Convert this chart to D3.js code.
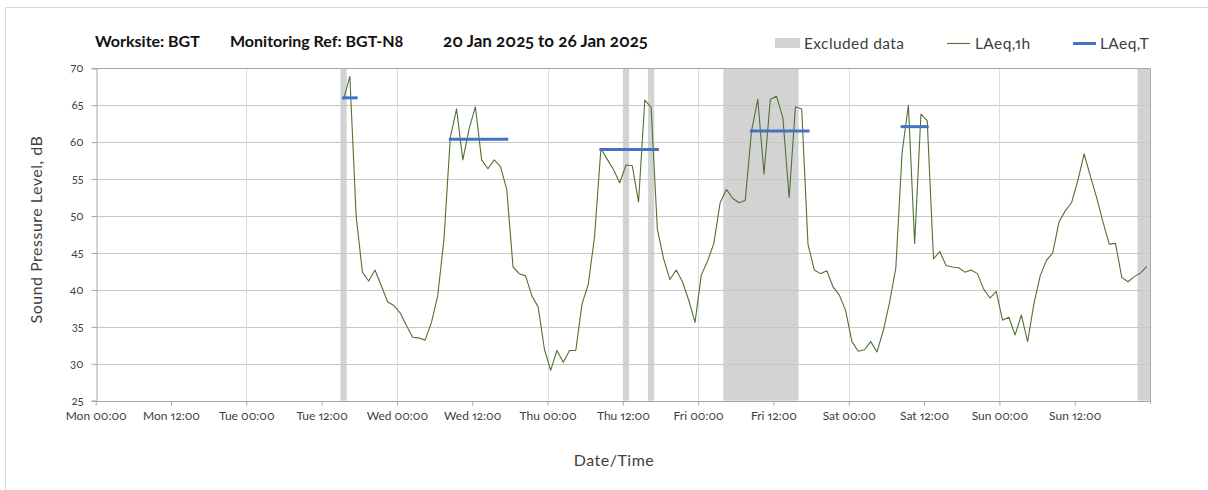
<!DOCTYPE html>
<html>
<head>
<meta charset="utf-8">
<script src="https://cdn.jsdelivr.net/npm/d3@7"></script>
<style>
  html, body { margin: 0; padding: 0; background: #fff; }
  svg { display: block; font-family: Lato, "Open Sans", sans-serif; font-feature-settings: "onum" 1, "pnum" 1; }
</style>
</head>
<body>
<svg id="chart" width="1208" height="490"></svg>
<script>
// ---- data ----
const title1 = "Worksite: BGT";
const title2 = "Monitoring Ref: BGT-N8";
const title3 = "20 Jan 2025 to 26 Jan 2025";
const yLabel = "Sound Pressure Level, dB";
const xLabel = "Date/Time";
const legendLabels = ["Excluded data", "LAeq,1h", "LAeq,T"];

const domainStart = "2025-01-20T00:00";
const domainEnd = "2025-01-27T00:00";
const xTickLabels = ["Mon 00:00","Mon 12:00","Tue 00:00","Tue 12:00","Wed 00:00","Wed 12:00","Thu 00:00",
                     "Thu 12:00","Fri 00:00","Fri 12:00","Sat 00:00","Sat 12:00","Sun 00:00","Sun 12:00"];
const yTicks = [25, 30, 35, 40, 45, 50, 55, 60, 65, 70];

// hourly LAeq,1h starting Tue 21 Jan 15:00 (one value per hour)
const hourlyStart = "2025-01-21T15:00";
const laeq1h = [
  65.8, 68.9, 50.0, 42.4, 41.2, 42.7, 40.6, 38.4, 37.9,            // Tue 15-23
  36.9, 35.2, 33.6, 33.5, 33.2, 35.6, 39.2, 46.9, 60.6, 64.5, 57.6, 61.8,   // Wed 00-11
  64.8, 57.6, 56.4, 57.6, 56.7, 53.6, 43.1, 42.2, 41.9, 39.2, 37.7, 32.0,   // Wed 12-23
  29.1, 31.8, 30.2, 31.8, 31.8, 38.1, 40.8, 47.3, 59.1, 57.7, 56.3, 54.5,   // Thu 00-11
  56.9, 56.8, 51.9, 65.7, 64.7, 48.2, 44.2, 41.4, 42.7, 41.1, 38.6, 35.6,   // Thu 12-23
  42.0, 43.9, 46.3, 51.8, 53.6, 52.4, 51.8, 52.1, 61.5, 65.8, 55.7, 65.8,   // Fri 00-11
  66.2, 63.3, 52.5, 64.8, 64.5, 46.2, 42.7, 42.2, 42.6, 40.4, 39.3, 37.2,   // Fri 12-23
  33.0, 31.7, 31.9, 33.0, 31.6, 34.5, 38.3, 43.0, 58.6, 65.0, 46.3, 63.8,   // Sat 00-11
  62.9, 44.2, 45.2, 43.3, 43.1, 43.0, 42.4, 42.7, 42.2, 40.1, 38.9, 39.8,   // Sat 12-23
  35.9, 36.3, 33.9, 36.6, 33.0, 38.1, 41.9, 44.0, 45.0, 49.2, 50.7, 51.8,   // Sun 00-11
  54.8, 58.4, 55.4, 52.5, 49.2, 46.2, 46.3, 41.7, 41.1, 41.8, 42.3, 43.2    // Sun 12-23
];

// LAeq,T periods (first hour start, last hour start, level)
const ltStart = ["2025-01-21T15:00","2025-01-22T08:00","2025-01-23T08:00","2025-01-24T08:00","2025-01-25T08:00"];
const ltEnd   = ["2025-01-21T17:00","2025-01-22T17:00","2025-01-23T17:00","2025-01-24T17:00","2025-01-25T12:00"];
const ltValue = [66.0, 60.4, 59.0, 61.5, 62.1];

// Excluded data periods
const exStart = ["2025-01-21T15:00","2025-01-23T12:00","2025-01-23T16:00","2025-01-24T04:00","2025-01-26T22:00"];
const exEnd   = ["2025-01-21T16:00","2025-01-23T13:00","2025-01-23T17:00","2025-01-24T16:00","2025-01-27T00:00"];

// ---- drawing ----
(function () {
const HOUR = 3600 * 1000;
const parse = s => new Date(s);
const svg = d3.select("#chart");
const pLeft = 95.7, pRight = 1150, pTop = 68.3, pBottom = 400.7;

const x = d3.scaleTime().domain([parse(domainStart), parse(domainEnd)]).range([pLeft, pRight]);
const y = d3.scaleLinear().domain([25, 70]).range([pBottom, pTop]);

const lineColor = "#537132", ltColor = "#4472c4", exColor = "#d3d3d3";
const textColor = "#404040";

// outer chart border
svg.append("path").attr("d", "M5.5,495V7.5H1215").attr("fill", "none").attr("stroke", "#d9d9d9");

// excluded bands
svg.append("g").selectAll("rect").data(exStart.map((s, i) => [parse(s), parse(exEnd[i])]))
  .join("rect")
  .attr("x", d => x(d[0])).attr("width", d => x(d[1]) - x(d[0]))
  .attr("y", pTop).attr("height", pBottom - pTop)
  .attr("fill", exColor);

// horizontal gridlines
svg.append("g").selectAll("line").data(yTicks.filter(v => v > 25))
  .join("line")
  .attr("x1", pLeft).attr("x2", pRight)
  .attr("y1", d => Math.round(y(d)) + 0.5).attr("y2", d => Math.round(y(d)) + 0.5)
  .attr("stroke", "#c8c8c8");

// vertical gridlines at daily 00:00
const tickDates = xTickLabels.map((_, i) => new Date(parse(domainStart).getTime() + i * 12 * HOUR));
svg.append("g").selectAll("line").data(tickDates.filter((d, i) => i > 0 && i % 2 === 0))
  .join("line")
  .attr("x1", d => Math.round(x(d)) + 0.5).attr("x2", d => Math.round(x(d)) + 0.5)
  .attr("y1", pTop).attr("y2", pBottom)
  .attr("stroke", "#dcdcdc");

// plot border (top and right)
svg.append("path")
  .attr("d", `M${pLeft},${Math.round(pTop) + 0.5}H${Math.round(pRight) + 0.5}V${pBottom + 3}`)
  .attr("fill", "none").attr("stroke", "#a6a6a6");

// y axis
const yAxis = d3.axisLeft(y).tickValues(yTicks).tickSize(5).tickPadding(8);
const gy = svg.append("g").attr("transform", `translate(${Math.round(pLeft) + 0.5},0)`).call(yAxis);
gy.select(".domain").attr("stroke", "#a6a6a6");
gy.selectAll(".tick line").attr("stroke", "#a6a6a6");
gy.selectAll(".tick text").attr("fill", textColor).style("font-size", "11.5px").style("font-family", "Lato");

// x axis
const xAxis = d3.axisBottom(x).tickValues(tickDates).tickSize(4).tickPadding(6)
  .tickFormat((d, i) => xTickLabels[i]);
const gx = svg.append("g").attr("transform", `translate(0,${Math.round(pBottom) + 0.5})`).call(xAxis);
gx.select(".domain").attr("stroke", "#a6a6a6").attr("d", `M${pLeft},0H${pRight}`);
gx.selectAll(".tick line").attr("stroke", "#a6a6a6");
gx.selectAll(".tick text").attr("fill", textColor).style("font-size", "12px").style("font-family", "Lato");

// LAeq,1h line
const t0 = parse(hourlyStart).getTime();
const line = d3.line()
  .x((d, i) => x(new Date(t0 + i * HOUR + HOUR / 2)))
  .y(d => y(d));
svg.append("path").datum(laeq1h).attr("d", line)
  .attr("fill", "none").attr("stroke", lineColor).attr("stroke-width", 1.1)
  .attr("stroke-linejoin", "round");

// LAeq,T segments
svg.append("g").selectAll("line").data(ltValue.map((v, i) => ({ s: parse(ltStart[i]), e: parse(ltEnd[i]), v })))
  .join("line")
  .attr("x1", d => x(new Date(d.s.getTime() + HOUR / 2)))
  .attr("x2", d => x(new Date(d.e.getTime() + HOUR / 2)))
  .attr("y1", d => y(d.v)).attr("y2", d => y(d.v))
  .attr("stroke", ltColor).attr("stroke-width", 3).attr("stroke-linecap", "square");

// title
const tg = svg.append("g").attr("font-weight", "bold").attr("font-size", "16px").attr("fill", "#111");
tg.append("text").attr("x", 95).attr("y", 47).text(title1);
tg.append("text").attr("x", 230).attr("y", 47).text(title2);
tg.append("text").attr("x", 443).attr("y", 47).attr("font-size", "17px").text(title3);

// axis titles
svg.append("text").attr("transform", `translate(42,${(pTop + pBottom) / 2 - 5}) rotate(-90)`)
  .attr("text-anchor", "middle").attr("fill", textColor).attr("font-size", "16px")
  .attr("letter-spacing", "0.5px").text(yLabel);
svg.append("text").attr("x", 614).attr("y", 466).attr("text-anchor", "middle")
  .attr("fill", textColor).attr("font-size", "16px").attr("letter-spacing", "0.5px").text(xLabel);

// legend
const lg = svg.append("g").attr("font-size", "15.5px").attr("fill", textColor).attr("letter-spacing", "0.4px");
lg.append("rect").attr("x", 775).attr("y", 38).attr("width", 25).attr("height", 10).attr("fill", exColor);
lg.append("text").attr("x", 804).attr("y", 49).text(legendLabels[0]);
lg.append("line").attr("x1", 947).attr("x2", 970).attr("y1", 43.5).attr("y2", 43.5).attr("stroke", lineColor).attr("stroke-width", 1.1);
lg.append("text").attr("x", 975).attr("y", 49).text(legendLabels[1]);
lg.append("line").attr("x1", 1073).attr("x2", 1096).attr("y1", 43.5).attr("y2", 43.5).attr("stroke", ltColor).attr("stroke-width", 3);
lg.append("text").attr("x", 1100).attr("y", 49).text(legendLabels[2]);
})();
</script>
</body>
</html>
